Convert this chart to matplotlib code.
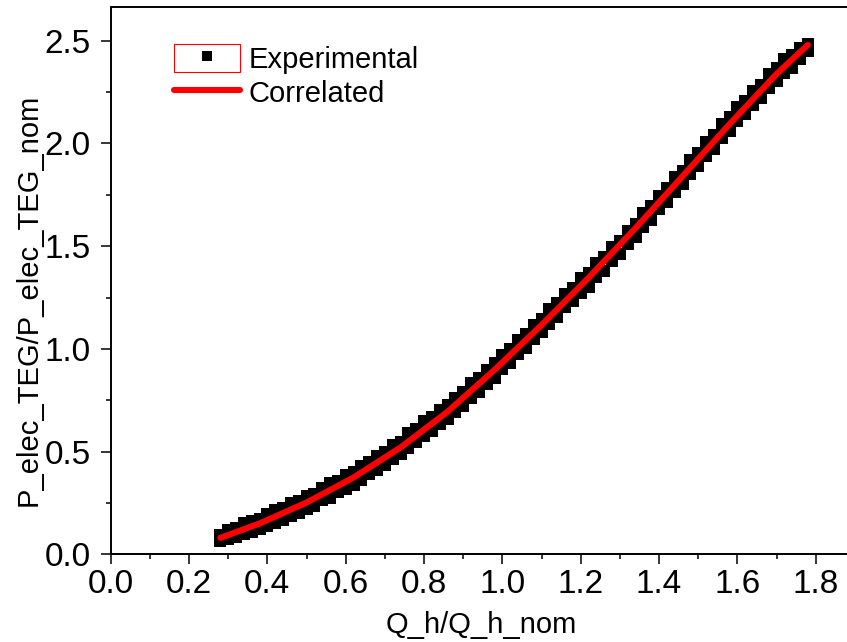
import matplotlib
matplotlib.use('Agg')
import matplotlib.pyplot as plt
from matplotlib.lines import Line2D
from matplotlib.patches import Patch
from matplotlib.legend_handler import HandlerTuple
from matplotlib.ticker import MultipleLocator

plt.rcParams['font.family'] = ['Liberation Sans', 'DejaVu Sans']

# Experimental points (band around the correlation)
exp_q = [0.28, 0.30, 0.32, 0.34, 0.36, 0.38, 0.40, 0.42, 0.44, 0.46,
         0.48, 0.50, 0.52, 0.54, 0.56, 0.58, 0.60, 0.62, 0.64, 0.66,
         0.68, 0.70, 0.72, 0.74, 0.76, 0.78, 0.80, 0.82, 0.84, 0.86,
         0.88, 0.90, 0.92, 0.94, 0.96, 0.98, 1.00, 1.02, 1.04, 1.06,
         1.08, 1.10, 1.12, 1.14, 1.16, 1.18, 1.20, 1.22, 1.24, 1.26,
         1.28, 1.30, 1.32, 1.34, 1.36, 1.38, 1.40, 1.42, 1.44, 1.46,
         1.48, 1.50, 1.52, 1.54, 1.56, 1.58, 1.60, 1.62, 1.64, 1.66,
         1.68, 1.70, 1.72, 1.74, 1.76, 1.78]
exp_p_upper = [0.095, 0.116, 0.129, 0.150, 0.163, 0.172, 0.195, 0.214, 0.226, 0.249,
               0.261, 0.282, 0.296, 0.321, 0.345, 0.357, 0.384, 0.401, 0.428, 0.449,
               0.481, 0.498, 0.531, 0.549, 0.589, 0.611, 0.647, 0.668, 0.704, 0.725,
               0.761, 0.788, 0.832, 0.857, 0.899, 0.929, 0.969, 0.999, 1.045, 1.072,
               1.116, 1.144, 1.193, 1.223, 1.269, 1.297, 1.343, 1.368, 1.416, 1.447,
               1.498, 1.527, 1.576, 1.608, 1.661, 1.694, 1.746, 1.781, 1.835, 1.867,
               1.919, 1.954, 2.008, 2.041, 2.093, 2.127, 2.178, 2.207, 2.256, 2.287,
               2.338, 2.367, 2.409, 2.431, 2.466, 2.485]
exp_p_lower = [0.065, 0.073, 0.084, 0.098, 0.107, 0.121, 0.140, 0.151, 0.168, 0.187,
               0.199, 0.219, 0.237, 0.262, 0.276, 0.301, 0.316, 0.339, 0.361, 0.392,
               0.409, 0.437, 0.462, 0.488, 0.519, 0.548, 0.578, 0.601, 0.634, 0.658,
               0.695, 0.721, 0.763, 0.790, 0.831, 0.859, 0.904, 0.933, 0.975, 1.004,
               1.047, 1.080, 1.123, 1.155, 1.202, 1.231, 1.273, 1.303, 1.349, 1.381,
               1.428, 1.461, 1.509, 1.543, 1.591, 1.628, 1.679, 1.714, 1.765, 1.803,
               1.852, 1.888, 1.938, 1.975, 2.026, 2.061, 2.108, 2.143, 2.189, 2.221,
               2.268, 2.303, 2.342, 2.368, 2.409, 2.452]

# Correlated curve
corr_q = [0.28, 0.38, 0.50, 0.62, 0.74, 0.86, 0.98, 1.10, 1.22, 1.34, 1.46, 1.58, 1.70, 1.78]
corr_p = [0.08, 0.15, 0.252, 0.374, 0.520, 0.694, 0.898, 1.116, 1.346, 1.588, 1.840, 2.094, 2.338, 2.480]

fig = plt.figure(figsize=(8.47, 6.42), dpi=100)
ax = fig.add_axes([0.1307, 0.1366, 0.8693, 0.853])

ax.plot(exp_q, exp_p_upper, 's', color='black', ms=8.5, mew=0, zorder=2)
ax.plot(exp_q, exp_p_lower, 's', color='black', ms=8.5, mew=0, zorder=2)
ax.plot(corr_q, corr_p, '-', color='#ff0000', lw=4.4, solid_capstyle='round', zorder=3)

ax.set_xlim(0, 1.880)
ax.set_ylim(0, 2.666)
ax.xaxis.set_major_locator(MultipleLocator(0.2))
ax.xaxis.set_minor_locator(MultipleLocator(0.1))
ax.yaxis.set_major_locator(MultipleLocator(0.5))
ax.yaxis.set_minor_locator(MultipleLocator(0.25))
ax.xaxis.set_major_formatter(plt.FuncFormatter(lambda v, p: f'{v:.1f}'))
ax.yaxis.set_major_formatter(plt.FuncFormatter(lambda v, p: f'{v:.1f}'))

ax.spines['right'].set_visible(False)
for s in ['left', 'bottom', 'top']:
    ax.spines[s].set_linewidth(1.4)
ax.tick_params(axis='both', which='major', direction='out', length=7.5, width=1.1,
               labelsize=24, top=False, right=False)
ax.tick_params(axis='both', which='minor', direction='out', length=3.6, width=1.1,
               top=False, right=False)
ax.tick_params(axis='x', which='major', pad=3)
ax.tick_params(axis='y', which='major', pad=7)

ax.set_xlabel('Q_h/Q_h_nom', fontsize=21)
ax.set_ylabel('P_elec_TEG/P_elec_TEG_nom', fontsize=21)
ax.xaxis.set_label_coords(0.5036, -0.103)
ax.yaxis.set_label_coords(-0.093, 0.464)

h_exp = (Patch(facecolor='white', edgecolor='#ff0000', lw=0.8),
         Line2D([], [], marker='s', color='black', ls='none', ms=7, mew=0))
h_corr = Line2D([], [], color='#ff0000', lw=4.4, solid_capstyle='round')
ax.legend([h_exp, h_corr], ['Experimental', 'Correlated'],
          handler_map={tuple: HandlerTuple(ndivide=1)},
          loc='upper left', bbox_to_anchor=(0.086, 0.932), frameon=False,
          fontsize=21, borderpad=0, borderaxespad=0, handlelength=2.26,
          handleheight=1.13, handletextpad=0.3, labelspacing=0.14)

fig.savefig('out.png', dpi=100)
